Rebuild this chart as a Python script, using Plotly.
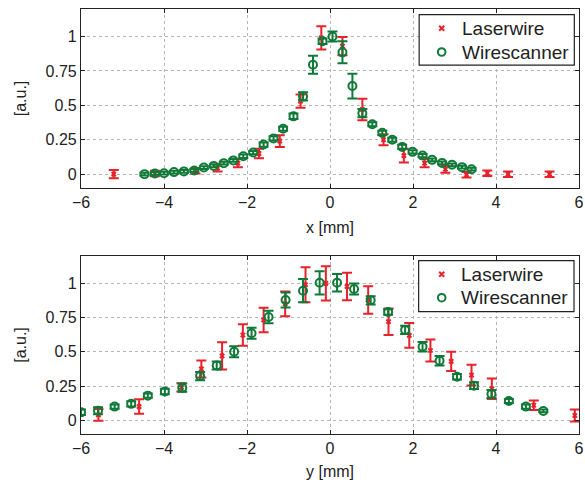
import plotly.graph_objects as go

# ---- Top panel (x) ----
lw_x_pos = [-5.21, -4.22, -3.24, -2.71, -2.22, -1.71, -1.21, -0.71, -0.21, 0.30, 0.78, 1.29, 1.78, 2.28, 2.78, 3.29, 3.79, 4.29, 5.29]
lw_x_val = [0.0, 0.005, 0.025, 0.045, 0.08, 0.15, 0.24, 0.53, 0.99, 0.93, 0.47, 0.25, 0.135, 0.08, 0.036, -0.005, 0.007, 0.0, 0.0]
lw_x_err = [0.03, 0.02, 0.02, 0.025, 0.03, 0.034, 0.042, 0.048, 0.085, 0.066, 0.078, 0.04, 0.05, 0.03, 0.025, 0.02, 0.02, 0.02, 0.02]

ws_x_pos = [-4.47, -4.22, -4.0, -3.76, -3.52, -3.27, -3.04, -2.80, -2.56, -2.33, -2.09, -1.85, -1.60, -1.36, -1.13, -0.88, -0.65, -0.41, -0.18, 0.06, 0.30, 0.54, 0.78, 1.02, 1.26, 1.50, 1.74, 1.99, 2.23, 2.46, 2.70, 2.94, 3.18, 3.41]
ws_x_val = [0.0, 0.005, 0.007, 0.015, 0.02, 0.027, 0.048, 0.06, 0.08, 0.10, 0.13, 0.157, 0.215, 0.26, 0.33, 0.42, 0.565, 0.795, 0.966, 1.0, 0.885, 0.64, 0.443, 0.363, 0.30, 0.25, 0.198, 0.162, 0.135, 0.104, 0.082, 0.068, 0.051, 0.036]
ws_x_err = [0.01, 0.01, 0.01, 0.01, 0.01, 0.01, 0.01, 0.01, 0.01, 0.01, 0.012, 0.012, 0.015, 0.015, 0.015, 0.02, 0.03, 0.065, 0.02, 0.036, 0.08, 0.09, 0.03, 0.015, 0.015, 0.015, 0.015, 0.012, 0.012, 0.01, 0.01, 0.01, 0.01, 0.01]

# ---- Bottom panel (y) ----
lw_y_pos = [-5.58, -4.60, -3.58, -3.10, -2.60, -2.10, -1.60, -1.08, -0.59, -0.10, 0.41, 0.92, 1.41, 1.91, 2.42, 2.92, 3.41, 3.90, 4.91, 5.90]
lw_y_val = [0.04, 0.10, 0.24, 0.375, 0.47, 0.623, 0.732, 0.85, 0.99, 1.0, 0.977, 0.878, 0.72, 0.62, 0.51, 0.43, 0.33, 0.23, 0.11, 0.035]
lw_y_err = [0.043, 0.053, 0.03, 0.062, 0.10, 0.079, 0.089, 0.09, 0.128, 0.125, 0.10, 0.10, 0.097, 0.09, 0.08, 0.07, 0.075, 0.075, 0.034, 0.043]

ws_y_pos = [-6.0, -5.59, -5.19, -4.79, -4.39, -3.98, -3.56, -3.13, -2.73, -2.31, -1.89, -1.48, -1.07, -0.65, -0.25, 0.17, 0.58, 0.98, 1.40, 1.81, 2.23, 2.64, 3.06, 3.47, 3.89, 4.31, 4.72, 5.14]
ws_y_val = [0.058, 0.07, 0.10, 0.12, 0.18, 0.21, 0.238, 0.323, 0.40, 0.50, 0.635, 0.754, 0.878, 0.946, 1.004, 1.004, 0.958, 0.876, 0.79, 0.66, 0.537, 0.435, 0.318, 0.253, 0.192, 0.141, 0.10, 0.068]
ws_y_err = [0.02, 0.025, 0.015, 0.02, 0.015, 0.02, 0.03, 0.03, 0.03, 0.04, 0.04, 0.045, 0.055, 0.085, 0.085, 0.064, 0.04, 0.03, 0.02, 0.03, 0.035, 0.035, 0.02, 0.025, 0.03, 0.015, 0.015, 0.01]

series_names = ["Laserwire", "Wirescanner"]

RED = "#e8222b"
GREEN = "#0f7a38"
FONT = "Liberation Sans, Arial, sans-serif"

fig = go.Figure()

def add_pair(xl, yl, el, xw, yw, ew, xa, ya):
    fig.add_trace(go.Scatter(
        x=xl, y=yl, mode="markers", name=series_names[0], showlegend=False,
        marker=dict(symbol="x", size=5, color=RED, line=dict(width=0)),
        error_y=dict(type="data", array=el, color=RED, thickness=2, width=5),
        xaxis=xa, yaxis=ya))
    fig.add_trace(go.Scatter(
        x=xw, y=yw, mode="markers", name=series_names[1], showlegend=False,
        marker=dict(symbol="circle-open", size=8, color=GREEN, line=dict(width=2, color=GREEN)),
        error_y=dict(type="data", array=ew, color=GREEN, thickness=2, width=5),
        xaxis=xa, yaxis=ya))

add_pair(lw_x_pos, lw_x_val, lw_x_err, ws_x_pos, ws_x_val, ws_x_err, "x", "y")
add_pair(lw_y_pos, lw_y_val, lw_y_err, ws_y_pos, ws_y_val, ws_y_err, "x2", "y2")

tick_vals_x = [-6, -4, -2, 0, 2, 4, 6]
tick_text_x = ["\u22126", "\u22124", "\u22122", "0", "2", "4", "6"]
tick_vals_y = [0, 0.25, 0.5, 0.75, 1]
tick_text_y = ["0", "0.25", "0.5", "0.75", "1"]

axis_common = dict(showline=True, linecolor="#222", linewidth=1.2, mirror="ticks",
                   ticks="inside", ticklen=4, tickcolor="#222", automargin=False,
                   showgrid=True, gridcolor="#b5b5b5", griddash="dot", gridwidth=1,
                   zeroline=False, tickfont=dict(size=16, color="#222", family=FONT))

# ---- manual legends (box, symbols, labels) in paper coordinates ----
shapes = []
annotations = []
def add_legend(x0, x1, y0, y1, mx, tx, rows):
    shapes.append(dict(type="rect", xref="paper", yref="paper", x0=x0, x1=x1, y0=y0, y1=y1,
                       line=dict(color="#222", width=1.2), fillcolor="white", layer="above"))
    for (a, b, c, d) in [(-2.5, -2.5, 2.5, 2.5), (-2.5, 2.5, 2.5, -2.5)]:
        shapes.append(dict(type="line", xref="paper", yref="paper", xsizemode="pixel", ysizemode="pixel",
                           xanchor=mx, yanchor=rows[0], x0=a, y0=b, x1=c, y1=d,
                           line=dict(color=RED, width=2), layer="above"))
    shapes.append(dict(type="circle", xref="paper", yref="paper", xsizemode="pixel", ysizemode="pixel",
                       xanchor=mx, yanchor=rows[1], x0=-3.8, y0=-3.8, x1=3.8, y1=3.8,
                       line=dict(color=GREEN, width=2), layer="above"))
    for name, ry in zip(series_names, rows):
        annotations.append(dict(text=name, xref="paper", yref="paper", x=tx, y=ry,
                                xanchor="left", yanchor="middle", showarrow=False,
                                font=dict(size=19, family=FONT, color="#222")))

add_legend(0.679, 0.9906, 0.868, 0.9866, 0.7243, 0.762, [0.9546, 0.8988])
add_legend(0.678, 0.990, 0.2878, 0.4078, 0.7243, 0.760, [0.3758, 0.3207])

fig.update_layout(
    width=585, height=480,
    paper_bgcolor="white", plot_bgcolor="white",
    margin=dict(l=81, r=6, t=9, b=46),
    font=dict(family=FONT, color="#222"),
    showlegend=False,
    shapes=shapes, annotations=annotations,
    xaxis=dict(domain=[0, 1], range=[-6, 6], anchor="y", tickvals=tick_vals_x, ticktext=tick_text_x,
               title=dict(text="x [mm]", font=dict(size=16), standoff=11), **axis_common),
    yaxis=dict(domain=[0.579, 1], range=[-0.1, 1.2], anchor="x", tickvals=tick_vals_y, ticktext=tick_text_y,
               title=dict(text="[a.u.]", font=dict(size=16), standoff=14), **axis_common),
    xaxis2=dict(domain=[0, 1], range=[-6, 6], anchor="y2", tickvals=tick_vals_x, ticktext=tick_text_x,
                title=dict(text="y [mm]", font=dict(size=16), standoff=10), **axis_common),
    yaxis2=dict(domain=[0, 0.419], range=[-0.1, 1.2], anchor="x2", tickvals=tick_vals_y, ticktext=tick_text_y,
                title=dict(text="[a.u.]", font=dict(size=16), standoff=14), **axis_common),
)

fig.write_html("out.html", config={"displayModeBar": False},
               post_script="document.body.style.margin='0';document.body.style.overflow='hidden';")
